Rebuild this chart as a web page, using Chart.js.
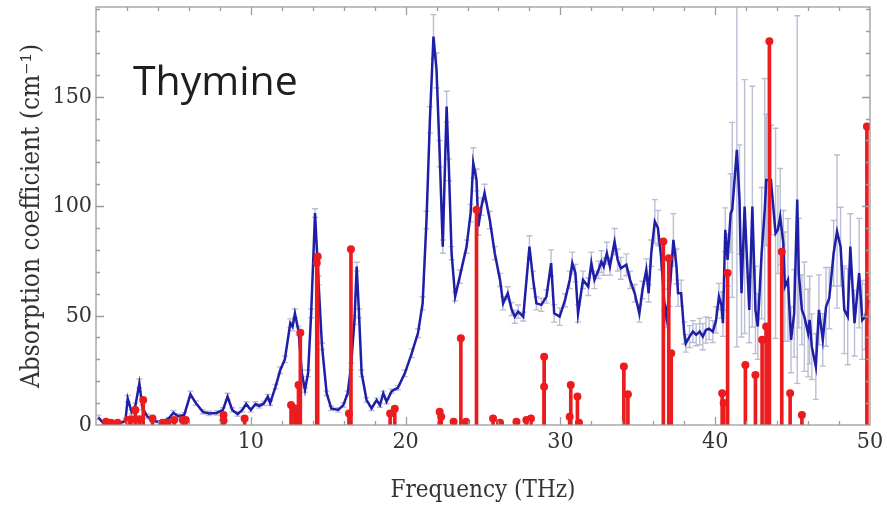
<!DOCTYPE html>
<html><head><meta charset="utf-8">
<script src="https://cdn.jsdelivr.net/npm/chart.js@4.4.0/dist/chart.umd.min.js"></script>
<style>html,body{margin:0;padding:0;background:#fff;}#wrap{width:887px;height:508px;position:relative;}canvas{display:block;}</style>
</head><body><div id="wrap"><canvas id="c" width="887" height="508" style="width:887px;height:508px"></canvas></div>
<script>
// Measured absorption spectrum (blue line with grey error bars)
const freq = [0.15,0.45,0.8,1.2,1.6,1.9,2.05,2.3,2.55,2.8,3.0,3.3,3.65,4.0,4.3,4.7,5.0,5.3,5.7,6.1,6.45,6.9,7.3,7.8,8.2,8.5,8.8,9.15,9.45,9.7,10.0,10.3,10.55,10.85,11.1,11.25,11.6,11.9,12.2,12.55,12.7,12.85,13.08,13.3,13.5,13.7,13.9,14.15,14.37,14.6,14.9,15.2,15.65,15.98,16.26,16.47,16.7,16.84,16.99,17.16,17.48,17.8,18.13,18.34,18.56,18.77,19.1,19.5,19.95,20.4,20.8,21.1,21.35,21.57,21.8,22.0,22.2,22.4,22.65,22.8,22.97,23.2,23.5,23.94,24.2,24.37,24.58,24.7,24.9,25.1,25.44,25.76,26.1,26.3,26.6,26.84,27.05,27.27,27.6,28.0,28.24,28.45,28.77,29.1,29.4,29.6,29.95,30.3,30.6,30.77,30.97,31.14,31.46,31.8,32.0,32.2,32.47,32.65,32.8,33.0,33.2,33.5,33.7,33.9,34.26,34.5,34.8,35.1,35.3,35.55,35.7,35.87,36.1,36.3,36.5,36.7,36.84,37.05,37.3,37.5,37.6,37.8,38.0,38.1,38.34,38.56,38.77,39.0,39.2,39.4,39.6,39.85,40.06,40.24,40.4,40.5,40.65,40.8,41.0,41.1,41.4,41.57,41.7,41.9,42.2,42.4,42.6,42.75,43.0,43.2,43.3,43.6,43.9,44.05,44.2,44.4,44.5,44.7,44.9,45.1,45.3,45.4,45.6,45.76,46.0,46.1,46.24,46.5,46.7,46.95,47.16,47.37,47.65,47.87,48.1,48.34,48.56,48.73,49.0,49.3,49.5,49.7,49.9];
const absorption = [3.5,1,1,0.8,1,2,12,6,9,19,8,4,2,1.5,1.5,3,5.6,4,4.6,14,10,6,5.3,5.5,6.9,13,6.9,5,6.9,9.6,6.9,9.6,8.7,9.9,13,10,17.5,25,30,46.5,45,51,43,23.6,16,23.6,51,96.8,66,36,14.5,7.6,6.9,9.1,14.5,26.7,48,72.4,51,23.6,11.4,7.6,11.4,9.1,14.5,10.7,15.5,17,23.6,32.8,42,55.6,93.7,139.5,177.5,162,124,81.5,145.5,116.6,78.5,58.7,67.8,81.5,96.8,119.7,112,90.7,99.8,106,93.7,78.5,66.3,55.6,60.2,53,49.5,51.8,49.5,81.5,66.3,55.6,54.9,58.7,74,51,49.5,57,66.3,74,69.4,51,66.3,63.2,74,66.3,70.9,74.7,72.4,78.5,72.4,83.8,75.4,71.6,73.2,66.3,60.2,51,61.7,70.9,60.2,78.5,93,90,77,57,49.5,60.2,84.6,72.4,60.2,60.2,42,37.3,40.4,42.7,41.2,42.7,40.4,43.4,44,42.7,48,58.7,54.9,46.5,89.2,75.4,96.8,98.3,125.7,103,60.2,99.8,52.6,99.8,52.6,45,78.5,98.3,112,112,87.6,89.2,95.2,83,63.2,66.3,38.9,51,103,69.4,52.6,49.5,42,48,35.8,26.7,52.6,38.9,54,58,78.5,88.4,81.5,52.6,49.5,81.5,46.5,69.4,48,49.5,57];
const absError = [1,1,0.5,0.5,0.5,1,1.5,1,1,2,1,1,0.5,0.5,0.5,0.5,1,1,1,1.5,1,1,1,1,1,1.5,1,1,1,1,1,1,1,1,1,1,1,1.5,1.5,2,2,2,2,1.5,1,1.5,2,2,2,1.5,1,1,1,1,1,1.5,2,2,2,1.5,1,1,1,1,1,1,1,1,1.5,2,2,3,4,6,10,8,6,3,7,5,3,2,3,3,4,7,5,4,4,4,4,3,3,3,3,3,3,3,2,5,4,3,3,3,6,4,4,3,4,5,4,4,4,4,5,4,4,5,4,5,4,6,5,5,5,4,4,4,4,5,4,6,10,8,6,5,5,6,12,8,6,6,5,4,5,5,5,6,6,6,5,5,6,6,6,6,10,12,18,40,90,25,20,58,15,55,20,15,30,60,30,25,48,20,22,15,25,28,15,20,84,25,16,25,20,20,15,15,16,12,18,14,15,35,18,20,22,15,15,25,18,15,10];
// Calculated vibrational modes (red stems)
const modeFreq = [0.65,0.97,1.4,2.05,2.26,2.54,2.8,3.05,3.65,4.3,4.6,5.05,5.6,5.8,8.24,8.24,9.6,12.6,12.8,12.97,13.08,13.2,14.26,14.32,16.34,16.47,19.0,19.3,22.2,22.3,23.1,23.57,23.9,24.58,25.65,26.1,27.16,27.8,28.1,28.95,28.95,30.6,30.67,31.1,31.2,34.1,34.36,36.65,37.0,37.16,40.45,40.55,40.8,41.95,42.6,43.03,43.29,43.5,44.3,44.84,45.6,49.8];
const modeIntensity = [1.5,1,1,2.3,2.6,6.9,2.6,11.4,3,1,1,2.3,2.3,2.3,4.6,2,3,9.1,7.6,6.9,18.3,42.2,74,77,5.3,80.3,5.3,7.4,6,3.8,1.5,39.6,1.5,98.3,3,1,1.5,2.3,3,31.2,17.5,3.8,18.3,13,1,26.7,14,83.8,76.2,32.8,14.5,10,69.4,27.4,22.9,38.9,45,175.3,79.2,14.5,4.6,136.4];
// Axis tick labels
const xTickLabels = [10,20,30,40,50];
const yTickLabels = [0,50,100,150];
const xMinorStep = 2, yMinorStep = 10;
const sampleName = 'Thymine';

const serif = "'DejaVu Serif Condensed','DejaVu Serif',serif";
const lineData = freq.map((f,i)=>({x:f,y:absorption[i]}));
const modeData = modeFreq.map((f,i)=>({x:f,y:modeIntensity[i]}));

const errorBars = {
  id:'errorBars',
  beforeDatasetsDraw(chart){
    const {ctx, chartArea:a, scales:{x,y}} = chart;
    ctx.save();
    ctx.beginPath(); ctx.rect(a.left,a.top,a.right-a.left,a.bottom-a.top); ctx.clip();
    ctx.strokeStyle='rgba(175,178,205,0.85)'; ctx.lineWidth=1.4;
    ctx.beginPath();
    freq.forEach((f,i)=>{
      const px=x.getPixelForValue(f);
      const y1=y.getPixelForValue(absorption[i]+absError[i]);
      const y2=y.getPixelForValue(Math.max(0,absorption[i]-absError[i]));
      ctx.moveTo(px,y1); ctx.lineTo(px,y2);
      ctx.moveTo(px-3,y1); ctx.lineTo(px+3,y1);
      ctx.moveTo(px-3,y2); ctx.lineTo(px+3,y2);
    });
    ctx.stroke();
    ctx.restore();
  }
};
const frame = {
  id:'frame',
  afterDraw(chart){
    const {ctx, chartArea:a, scales:{x,y}} = chart;
    ctx.save();
    ctx.strokeStyle='#9c9c9c'; ctx.lineWidth=1.3;
    ctx.strokeRect(a.left,a.top,a.right-a.left,a.bottom-a.top);
    ctx.beginPath();
    for(let v=xMinorStep; v<x.max; v+=xMinorStep){
      const px=Math.round(x.getPixelForValue(v))+0.5;
      const L = xTickLabels.includes(v)?8:4;
      ctx.moveTo(px,a.bottom); ctx.lineTo(px,a.bottom-L);
      ctx.moveTo(px,a.top); ctx.lineTo(px,a.top+L);
    }
    for(let v=yMinorStep; v<y.max; v+=yMinorStep){
      const py=Math.round(y.getPixelForValue(v))+0.5;
      const L = yTickLabels.includes(v)?8:4;
      ctx.moveTo(a.left,py); ctx.lineTo(a.left+L,py);
      ctx.moveTo(a.right,py); ctx.lineTo(a.right-L,py);
    }
    ctx.stroke();
    ctx.fillStyle='#1e1e1e';
    ctx.font="41px 'Open Sans', sans-serif";
    ctx.textBaseline='alphabetic';
    ctx.fillText(sampleName, a.left+37, a.top+88);
    ctx.restore();
  }
};

new Chart(document.getElementById('c'), {
  type:'line',
  data:{datasets:[
    {type:'line', data:modeData, showLine:false, pointRadius:4, pointHoverRadius:4, pointBackgroundColor:'rgb(236,28,30)', pointBorderWidth:0, order:0},
    {type:'bar', data:modeData, backgroundColor:'rgb(236,28,30)', borderWidth:0, barThickness:3, order:1},
    {type:'line', data:lineData, borderColor:'rgb(30,30,168)', borderWidth:2.5, pointRadius:0, tension:0, fill:false, order:2}
  ]},
  options:{
    responsive:false, animation:false, devicePixelRatio:1,
    layout:{padding:{left:0,right:17,top:7,bottom:0}},
    plugins:{legend:{display:false}, tooltip:{enabled:false}},
    scales:{
      x:{type:'linear', min:0, max:50, offset:false,
        grid:{display:false, drawTicks:false}, border:{display:false},
        ticks:{stepSize:10, autoSkip:false, maxRotation:0, padding:3, color:'#333', font:{family:serif,size:23},
          callback:v=>xTickLabels.includes(v)?String(v):''},
        title:{display:true, text:'Frequency (THz)', color:'#333', font:{family:serif,size:24}, padding:{top:2,bottom:3}},
        afterFit(s){s.height=83;}
      },
      y:{type:'linear', min:0, max:191,
        grid:{display:false, drawTicks:false}, border:{display:false},
        ticks:{stepSize:50, autoSkip:false, includeBounds:false, padding:4, color:'#333', font:{family:serif,size:23},
          callback:v=>yTickLabels.includes(v)?String(v):''},
        title:{display:true, text:'Absorption coefficient (cm⁻¹)', color:'#333', font:{family:serif,size:26}, padding:{top:17,bottom:0}},
        afterFit(s){s.width=96; s.paddingTop=0; s.paddingBottom=0;}
      }
    }
  },
  plugins:[errorBars, frame]
});
</script></body></html>
